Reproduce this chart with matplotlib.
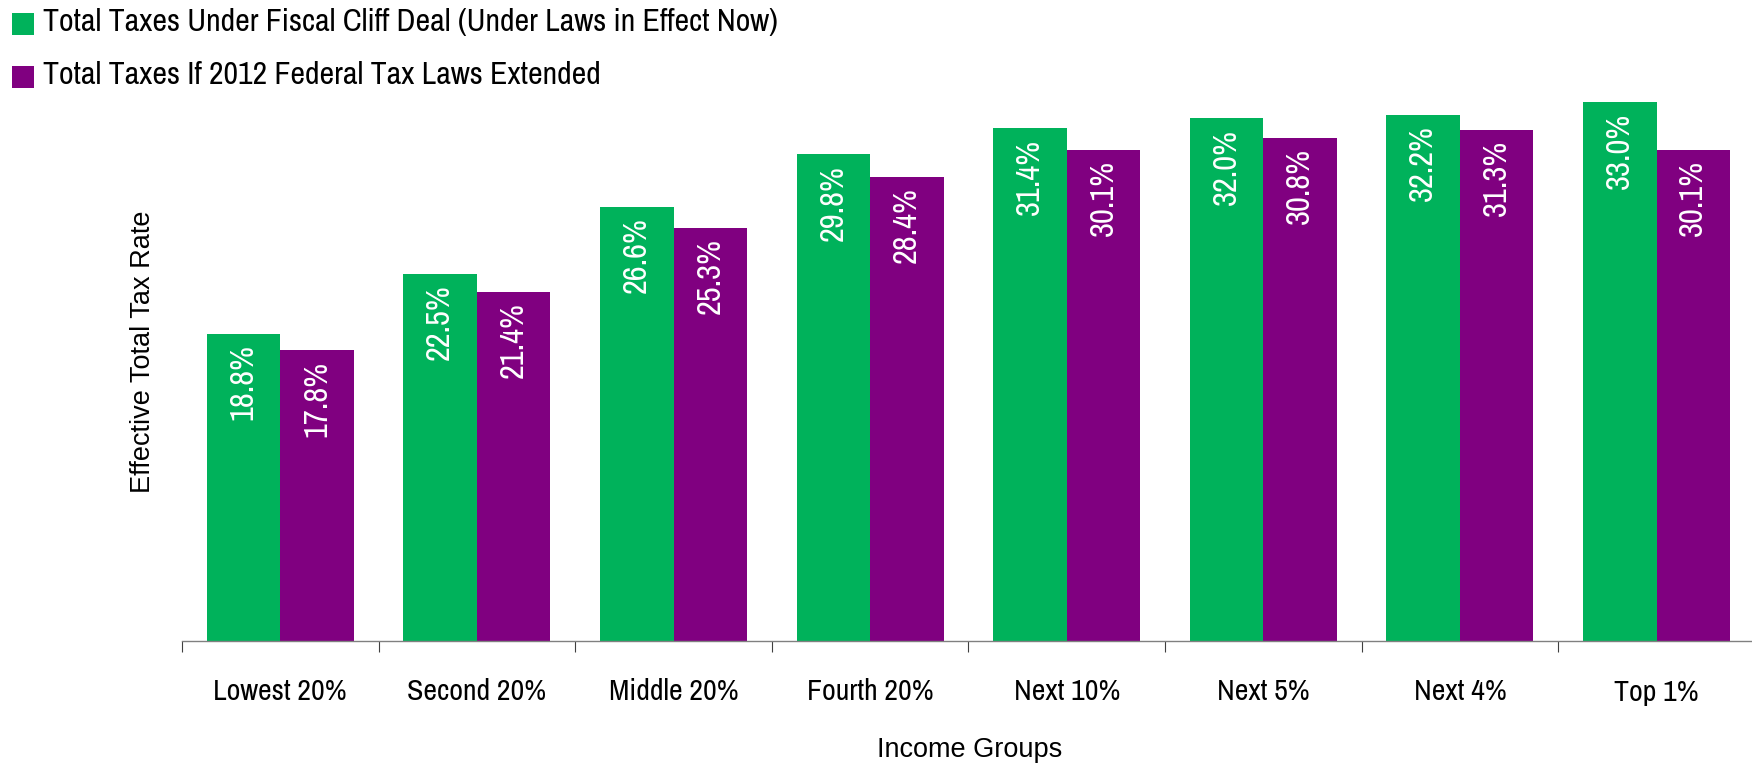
import matplotlib
matplotlib.use("Agg")
import matplotlib.pyplot as plt
from matplotlib.patches import Rectangle
import numpy as np

categories = ["Lowest 20%", "Second 20%", "Middle 20%", "Fourth 20%",
              "Next 10%", "Next 5%", "Next 4%", "Top 1%"]
fiscal_cliff = [18.8, 22.5, 26.6, 29.8, 31.4, 32.0, 32.2, 33.0]
extended_2012 = [17.8, 21.4, 25.3, 28.4, 30.1, 30.8, 31.3, 30.1]
series_labels = ["Total Taxes Under Fiscal Cliff Deal (Under Laws in Effect Now)",
                 "Total Taxes If 2012 Federal Tax Laws Extended"]
x_title = "Income Groups"
y_title = "Effective Total Tax Rate"

GREEN = "#00B25B"
PURPLE = "#800080"
NARROW = ["Archivo Narrow", "Liberation Sans", "DejaVu Sans"]
REG = ["Liberation Sans", "DejaVu Sans"]

W, H = 1752, 765
fig = plt.figure(figsize=(W / 100, H / 100), dpi=100)
ax = fig.add_axes([182 / W, 124 / H, 1570 / W, 571.5 / H])

x = np.arange(len(categories))
bw = 0.374
b1 = ax.bar(x - bw / 2, fiscal_cliff, bw, color=GREEN, linewidth=0)
b2 = ax.bar(x + bw / 2, extended_2012, bw, color=PURPLE, linewidth=0)

for bars, vals in ((b1, fiscal_cliff), (b2, extended_2012)):
    for r, v in zip(bars, vals):
        ax.annotate(f"{v:.1f}%", (r.get_x() + r.get_width() / 2, v),
                    xytext=(0, -7.5), textcoords="offset points",
                    rotation=90, ha="center", va="top", color="white",
                    fontsize=23.5, family=NARROW)

ax.set_xlim(-0.5, -0.5 + 1570 / 196.6)
ax.set_ylim(0, 35)
for s in ("left", "right", "top"):
    ax.spines[s].set_visible(False)
ax.spines["bottom"].set_color("#808080")
ax.spines["bottom"].set_linewidth(1.0)
ax.set_yticks([])
ax.set_xticks(x)
ax.set_xticklabels(categories, fontsize=21.5, family=NARROW)
ax.tick_params(axis="x", which="major", length=0, pad=27)
ax.set_xticks(np.arange(len(categories)) - 0.5, minor=True)
ax.tick_params(axis="x", which="minor", length=8, width=0.8, color="#404040")

fig.text(143 / W, 1 - 352 / H, y_title, rotation=90, ha="center", va="center",
         fontsize=19.5, family=REG)
fig.text(970 / W, 1 - 757 / H, x_title, ha="center", va="baseline",
         fontsize=19.5, family=REG)

# legend
for i, (lab, col) in enumerate(zip(series_labels, [GREEN, PURPLE])):
    top = 13 + i * 53
    fig.add_artist(Rectangle((12 / W, 1 - (top + 22) / H), 22 / W, 22 / H,
                             transform=fig.transFigure, color=col, lw=0))
    fig.text(43 / W, 1 - (31 + i * 53) / H, lab, ha="left", va="baseline",
             fontsize=23, family=NARROW)

fig.savefig("out.png", dpi=100)
